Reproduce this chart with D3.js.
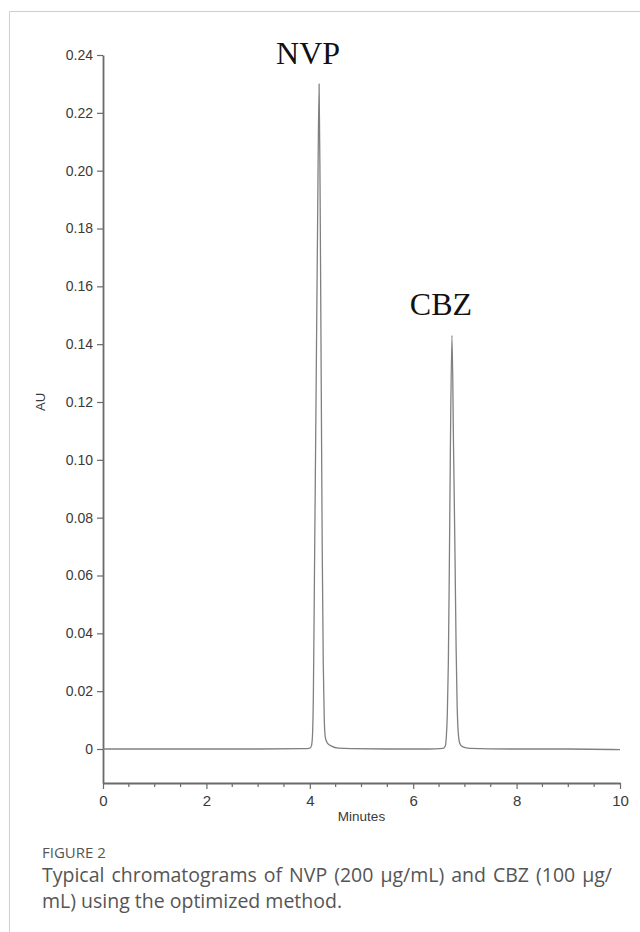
<!DOCTYPE html>
<html>
<head>
<meta charset="utf-8">
<script src="https://cdnjs.cloudflare.com/ajax/libs/d3/7.8.5/d3.min.js"></script>
<style>
	body { margin: 0; background: white; }
	svg { display: block; }
</style>
</head>
<body>
<div id="chart"></div>
<script>
(function() {
	"use strict";

	// chromatogram trace (minutes, AU)
	var times = [0, 1, 2, 3, 3.9, 4.0, 4.03, 4.05, 4.07, 4.09, 4.12, 4.15, 4.18, 4.2, 4.22, 4.24, 4.26, 4.28, 4.3, 4.34, 4.42, 4.55, 4.8,
		5.5, 6.3, 6.58, 6.62, 6.64, 6.66, 6.68, 6.7, 6.72, 6.75, 6.78, 6.81, 6.83, 6.85, 6.87, 6.9, 6.95, 7.1, 8, 9, 10];
	var absorbance = [0, 0, 0, 0, 0.0001, 0.0003, 0.001, 0.004, 0.02, 0.06, 0.12, 0.18, 0.23, 0.19, 0.13, 0.07, 0.03, 0.01, 0.004, 0.002, 0.001, 0.0003, 0.0001,
		0, 0, 0.0002, 0.001, 0.004, 0.012, 0.03, 0.065, 0.105, 0.143, 0.105, 0.065, 0.035, 0.015, 0.006, 0.002, 0.0008, 0.0002, 0, 0, -0.0002];

	var peakNames = ['NVP', 'CBZ'];
	var peakTimes = [4.18, 6.75];
	var peakHeights = [0.23, 0.143];

	var yTicks = [0, 0.02, 0.04, 0.06, 0.08, 0.10, 0.12, 0.14, 0.16, 0.18, 0.20, 0.22, 0.24];
	var xTicks = [0, 2, 4, 6, 8, 10];
	var xMinorTicks = [0.5, 1, 1.5, 2.5, 3, 3.5, 4.5, 5, 5.5, 6.5, 7, 7.5, 8.5, 9, 9.5];

	var captionTitle = 'FIGURE 2';
	var captionLines = ['Typical chromatograms of NVP (200 \u00b5g/mL) and CBZ (100 \u00b5g/',
		'mL) using the optimized method.'];

	var WIDTH = 640;
	var HEIGHT = 932;
	var LEFT = 103;
	var RIGHT = 620;
	var TOP = 55;
	var BASELINE = 749;
	var AXIS_Y = 783;
	var CAPTION_X = 42;
	var CAPTION_RIGHT = 612;
	var LINE_COLOR = '#808080';
	var AXIS_COLOR = '#6a6a6a';
	var TEXT_COLOR = '#3a3a3a';
	var SANS = 'Liberation Sans, Arial, sans-serif';

	var svg = d3.select('#chart').append('svg')
		.attr('width', WIDTH)
		.attr('height', HEIGHT);

	// page frame
	svg.append('path')
		.attr('d', 'M9.5,' + HEIGHT + 'V11.5H' + WIDTH)
		.attr('fill', 'none')
		.attr('stroke', '#cfcfcf')
		.attr('stroke-width', 1);

	var x = d3.scaleLinear().domain([0, 10]).range([LEFT, RIGHT]);
	var y = d3.scaleLinear().domain([0, 0.24]).range([BASELINE, TOP]);
	y.domain([y.invert(AXIS_Y), 0.24]).range([AXIS_Y, TOP]);

	var yAxis = svg.append('g')
		.attr('transform', 'translate(' + LEFT + ',0)')
		.call(d3.axisLeft(y)
			.tickValues(yTicks)
			.tickSizeInner(6)
			.tickSizeOuter(0)
			.tickPadding(4)
			.tickFormat(function (d) { return d === 0 ? '0' : d3.format('.2f')(d); }));
	styleAxis(yAxis, 14);

	var xAxis = svg.append('g')
		.attr('transform', 'translate(0,' + AXIS_Y + ')')
		.call(d3.axisBottom(x)
			.tickValues(xTicks)
			.tickSizeInner(6)
			.tickSizeOuter(0)
			.tickPadding(6)
			.tickFormat(d3.format('d')));
	styleAxis(xAxis, 15);

	svg.append('g')
		.selectAll('line')
		.data(xMinorTicks)
		.enter()
		.append('line')
		.attr('x1', function (t) { return x(t); })
		.attr('x2', function (t) { return x(t); })
		.attr('y1', AXIS_Y)
		.attr('y2', AXIS_Y + 4)
		.attr('stroke', AXIS_COLOR)
		.attr('stroke-width', 1.2);

	svg.append('text')
		.text('Minutes')
		.attr('x', (LEFT + RIGHT) / 2)
		.attr('y', 821)
		.attr('text-anchor', 'middle')
		.attr('font-family', SANS)
		.attr('font-size', 13.5)
		.attr('fill', TEXT_COLOR);

	svg.append('text')
		.text('AU')
		.attr('transform', 'translate(45,' + (TOP + BASELINE) / 2 + ') rotate(-90)')
		.attr('text-anchor', 'middle')
		.attr('font-family', SANS)
		.attr('font-size', 13)
		.attr('fill', TEXT_COLOR);

	var points = times.map(function (t, i) { return [t, absorbance[i]]; });
	var line = d3.line()
		.x(function (d) { return x(d[0]); })
		.y(function (d) { return y(d[1]); })
		.curve(d3.curveMonotoneX);

	svg.append('path')
		.datum(points)
		.attr('d', line)
		.attr('fill', 'none')
		.attr('stroke', LINE_COLOR)
		.attr('stroke-width', 1.3)
		.attr('stroke-linejoin', 'round');

	svg.append('g')
		.selectAll('text')
		.data(peakNames)
		.enter()
		.append('text')
		.text(function (d) { return d; })
		.attr('x', function (d, i) { return x(peakTimes[i]) - 11; })
		.attr('y', function (d, i) { return y(peakHeights[i]) - 20; })
		.attr('text-anchor', 'middle')
		.attr('font-family', 'Liberation Serif, Times New Roman, serif')
		.attr('font-size', 32)
		.attr('fill', '#111');

	writeCaption(svg);

	function styleAxis(axis, fontSize) {
		axis.select('.domain')
			.attr('stroke', AXIS_COLOR)
			.attr('stroke-width', 1.8);
		axis.selectAll('.tick line')
			.attr('stroke', AXIS_COLOR)
			.attr('stroke-width', 1.2);
		axis.selectAll('.tick text')
			.attr('font-family', SANS)
			.attr('font-size', fontSize)
			.attr('fill', TEXT_COLOR);
	}

	function writeCaption(container) {
		container.append('text')
			.text(captionTitle)
			.attr('x', CAPTION_X)
			.attr('y', 858)
			.attr('font-family', 'Open Sans, Noto Sans, sans-serif')
			.attr('font-size', 15)
			.attr('fill', '#555');
		var texts = container.append('g')
			.selectAll('text')
			.data(captionLines)
			.enter()
			.append('text')
			.text(function (d) { return d; })
			.attr('x', CAPTION_X)
			.attr('y', function (d, i) { return 882 + i * 26; })
			.attr('font-family', 'Open Sans, Noto Sans, sans-serif')
			.attr('font-size', 19.5)
			.attr('fill', '#555');
		// justified caption: stretch the spaces of every line but the last
		texts.each(function (d, i) {
			if (i === captionLines.length - 1) return;
			var gaps = d.split(' ').length - 1;
			var extra = CAPTION_RIGHT - CAPTION_X - this.getComputedTextLength();
			if (gaps > 0 && extra > 0) d3.select(this).attr('word-spacing', extra / gaps);
		});
	}
}());
</script>
</body>
</html>
